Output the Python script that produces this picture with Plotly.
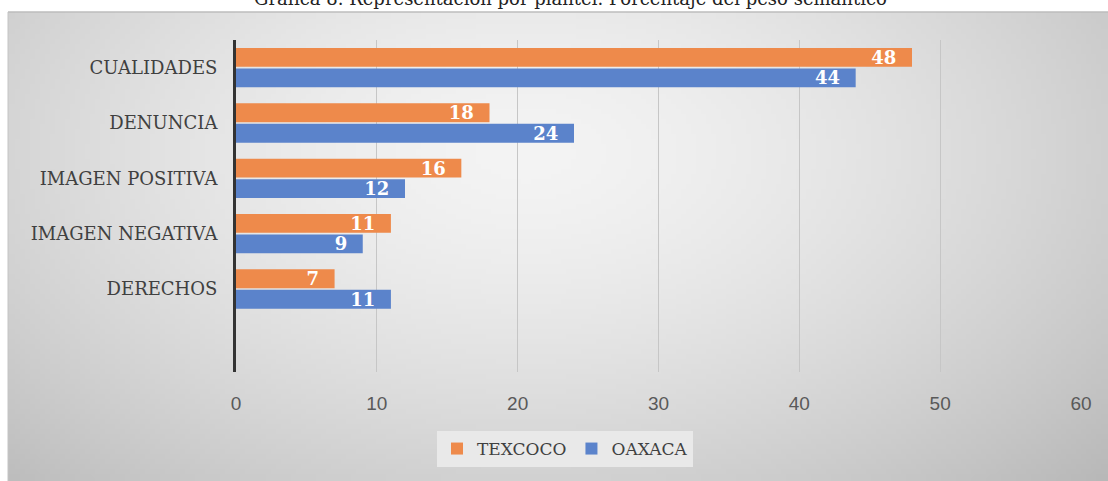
import base64
import struct
import zlib

import numpy as np
import plotly.graph_objects as go

# ---- data -------------------------------------------------------------
categories = ["CUALIDADES", "DENUNCIA", "IMAGEN POSITIVA", "IMAGEN NEGATIVA", "DERECHOS"]
texcoco = [48, 18, 16, 11, 7]
oaxaca = [44, 24, 12, 9, 11]
x_ticks = [0, 10, 20, 30, 40, 50, 60]
series_names = ["TEXCOCO", "OAXACA"]
title_text = "Gráfica 8. Representación por plantel. Porcentaje del peso semántico"

# ---- geometry (pixels) -------------------------------------------------
W, H = 1108, 481
L, R = 236, 1081      # plot area left / right
T, B = 40, 372        # plot area top / bottom
FRAME_X, FRAME_Y = 8, 12


def paper_x(px):
    return (px - L) / (R - L)


def paper_y(py):
    return (B - py) / (B - T)


def gradient_png(w, h):
    """Soft radial grey fill for the chart frame, encoded as a PNG data URI."""
    yy, xx = np.mgrid[0:h, 0:w]
    u = xx / (w - 1)
    v = yy / (h - 1)
    d = np.sqrt(((u - 0.47) / 0.62) ** 2 + ((v - 0.30) / 0.85) ** 2)
    g = 244 - 46 * np.clip(d, 0, 1.25) ** 1.5
    g = np.clip(g, 0, 255).astype(np.uint8)
    raw = b"".join(b"\x00" + row.tobytes() for row in g)

    def chunk(tag, data):
        return (struct.pack(">I", len(data)) + tag + data
                + struct.pack(">I", zlib.crc32(tag + data) & 0xFFFFFFFF))

    png = (b"\x89PNG\r\n\x1a\n"
           + chunk(b"IHDR", struct.pack(">IIBBBBB", w, h, 8, 0, 0, 0, 0))
           + chunk(b"IDAT", zlib.compress(raw, 9))
           + chunk(b"IEND", b""))
    return "data:image/png;base64," + base64.b64encode(png).decode()


ORANGE = "#EE8A4B"
BLUE = "#5B83CB"
PAD = "\u2002\u2009"   # breathing room after the inside-end labels

fig = go.Figure()
for name, vals, col in [(series_names[0], texcoco, ORANGE), (series_names[1], oaxaca, BLUE)]:
    fig.add_trace(go.Bar(
        y=categories, x=vals, name=name, orientation="h",
        marker=dict(color=col, line=dict(width=0)),
        texttemplate="%{x}" + PAD, textposition="inside", insidetextanchor="end",
        constraintext="none",
        textfont=dict(family="DejaVu Serif", size=18, color="white", weight="bold"),
    ))

fig.update_layout(
    width=W, height=H,
    margin=dict(l=L, r=W - R, t=T, b=H - B, pad=0),
    paper_bgcolor="white", plot_bgcolor="rgba(0,0,0,0)",
    barmode="group", bargap=0.26, bargroupgap=0.08,
    showlegend=True,
    legend=dict(
        orientation="h", x=paper_x(565), y=paper_y(431),
        xanchor="center", yanchor="top",
        bgcolor="#e9e9e9", borderwidth=0,
        font=dict(family="DejaVu Serif", size=17, color="#404040"),
        itemwidth=30,
    ),
    xaxis=dict(
        range=[0, 60], tickvals=x_ticks, showgrid=True, gridcolor="#c6c6c6", gridwidth=1,
        zeroline=False, showline=False, ticks="", ticklabelstandoff=18,
        tickfont=dict(family="Liberation Sans", size=19, color="#595959"),
        fixedrange=True,
    ),
    yaxis=dict(
        type="category", categoryorder="array", categoryarray=categories,
        range=[len(categories) + 0.5, -0.5],
        showgrid=False, zeroline=False, showline=True, linecolor="#333333", linewidth=3,
        ticks="", ticklabelstandoff=12,
        tickfont=dict(family="DejaVu Serif", size=18, color="#404040"),
        fixedrange=True,
    ),
    images=[dict(
        source=gradient_png(220, 94), xref="paper", yref="paper",
        x=paper_x(FRAME_X), y=paper_y(FRAME_Y),
        sizex=(W - FRAME_X) / (R - L), sizey=(H - FRAME_Y) / (B - T),
        sizing="stretch", xanchor="left", yanchor="top", layer="below",
    )],
    shapes=[
        dict(type="line", xref="paper", yref="paper",
             x0=paper_x(FRAME_X), x1=paper_x(W), y0=paper_y(FRAME_Y), y1=paper_y(FRAME_Y),
             line=dict(color="#bcbcbc", width=1.5)),
        dict(type="line", xref="paper", yref="paper",
             x0=paper_x(FRAME_X), x1=paper_x(FRAME_X), y0=paper_y(FRAME_Y), y1=paper_y(H),
             line=dict(color="#c4c4c4", width=1)),
    ],
    annotations=[dict(
        text=title_text, xref="paper", yref="paper",
        x=paper_x(570), y=paper_y(11), xanchor="center", yanchor="bottom",
        showarrow=False, font=dict(family="DejaVu Serif", size=18, color="#222222"),
    )],
)

fig.write_html("out.html")
